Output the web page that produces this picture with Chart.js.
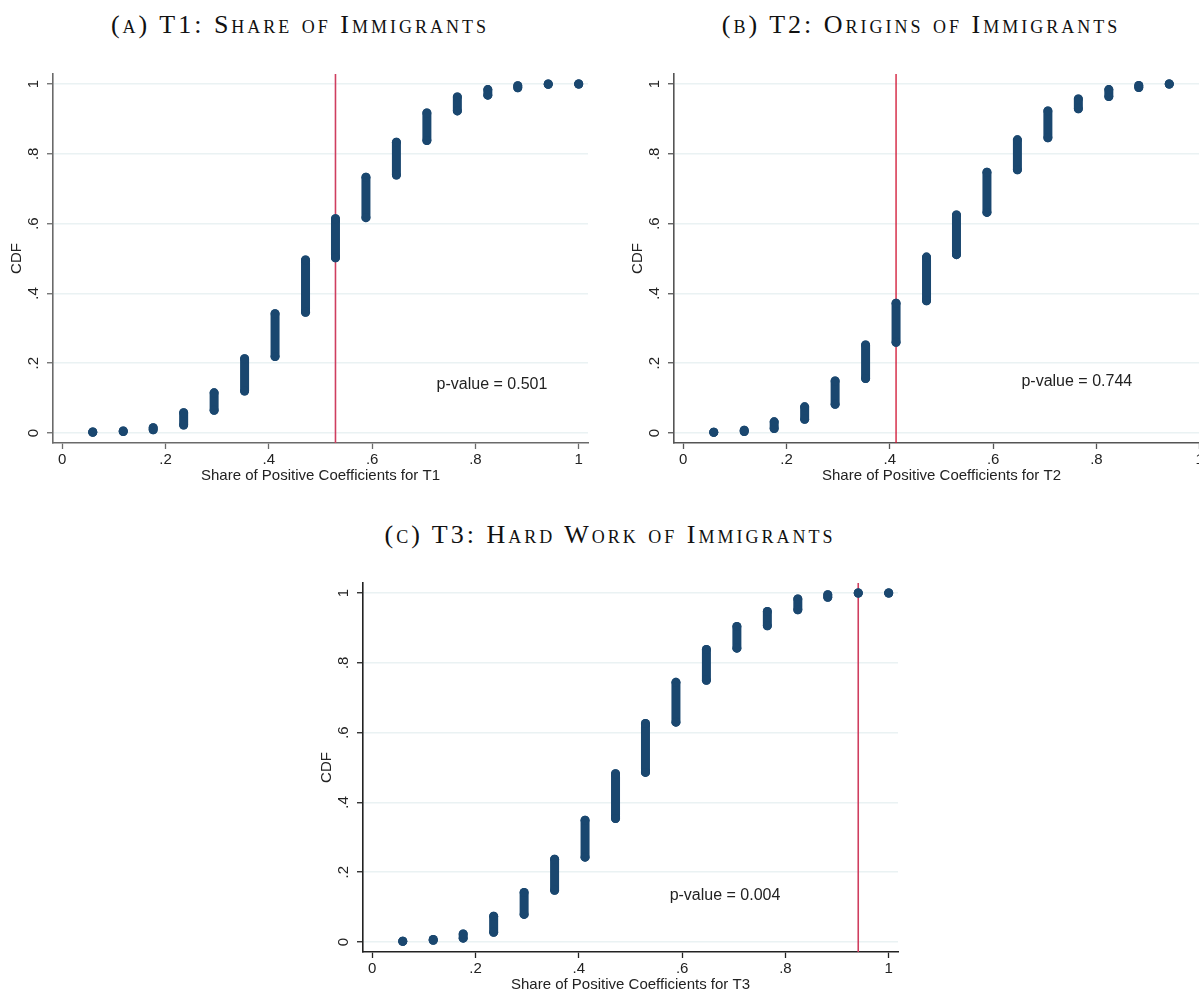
<!DOCTYPE html>
<html>
<head>
<meta charset="utf-8">
<script src="https://cdn.jsdelivr.net/npm/chart.js@4/dist/chart.umd.min.js"></script>
<style>
  html, body { margin: 0; padding: 0; background: #fff; overflow: hidden; width: 1199px; height: 992px; position: relative; }
  .panel { position: absolute; width: 600px; height: 440px; }
  .ttl { position: absolute; width: 600px; text-align: center; line-height: 30px; letter-spacing: 3px;
         font-family: 'Liberation Serif', serif; font-variant: small-caps; font-size: 26px; color: #111; }
</style>
</head>
<body>
<div class="ttl" style="left:0; top:10px">(a) T1: Share of Immigrants</div>
<div class="ttl" style="left:621px; top:10px">(b) T2: Origins of Immigrants</div>
<div class="ttl" style="left:310px; top:520px">(c) T3: Hard Work of Immigrants</div>

<div class="panel" style="left:0; top:60px"><canvas id="chartA" width="600" height="440"></canvas></div>
<div class="panel" style="left:621px; top:60px"><canvas id="chartB" width="600" height="440"></canvas></div>
<div class="panel" style="left:310px; top:569px"><canvas id="chartC" width="600" height="440"></canvas></div>

<script>
// share of positive coefficients (x = k/17)
const shares = [0.059, 0.118, 0.176, 0.235, 0.294, 0.353, 0.412, 0.471, 0.529,
                0.588, 0.647, 0.706, 0.765, 0.824, 0.882, 0.941, 1];

// CDF range at each share (low / high end of the stacked points)
const lowA  = [0.002, 0.004, 0.009, 0.023, 0.065, 0.120, 0.219, 0.346, 0.502, 0.617, 0.739, 0.838, 0.923, 0.968, 0.989, 0.999, 1.0];
const highA = [0.003, 0.006, 0.015, 0.058, 0.115, 0.213, 0.342, 0.496, 0.614, 0.733, 0.833, 0.917, 0.963, 0.984, 0.995, 1.0, 1.0];

const lowB  = [0.002, 0.004, 0.013, 0.039, 0.082, 0.156, 0.260, 0.379, 0.511, 0.632, 0.754, 0.846, 0.929, 0.964, 0.990, 1.0];
const highB = [0.002, 0.008, 0.032, 0.075, 0.149, 0.252, 0.372, 0.504, 0.625, 0.747, 0.840, 0.923, 0.957, 0.984, 0.996, 1.0];

const lowC  = [0.002, 0.005, 0.011, 0.028, 0.079, 0.148, 0.243, 0.354, 0.486, 0.630, 0.750, 0.842, 0.906, 0.952, 0.988, 1.0, 1.0];
const highC = [0.002, 0.007, 0.023, 0.074, 0.142, 0.237, 0.349, 0.482, 0.626, 0.744, 0.838, 0.904, 0.947, 0.983, 0.995, 1.0, 1.0];

// observed share (red line) and p-values
const actualA = 0.529, actualB = 0.412, actualC = 0.941;
const pValueA = 'p-value = 0.501', pValueB = 'p-value = 0.744', pValueC = 'p-value = 0.004';

const xTicks = [0, 0.2, 0.4, 0.6, 0.8, 1];
const xTickLabels = ['0', '.2', '.4', '.6', '.8', '1'];
const yTicks = [0, 0.2, 0.4, 0.6, 0.8, 1];
const yTickLabels = ['0', '.2', '.4', '.6', '.8', '1'];

const navy = '#1a476f';
const yMin = -0.0287, yMax = 1.0287;

function segments(xs, lo, hi) {
  let pts = [];
  for (let i = 0; i < lo.length; i++) {
    pts.push({x: xs[i], y: lo[i]});
    pts.push({x: xs[i], y: hi[i]});
    pts.push({x: xs[i], y: null});
  }
  return pts;
}

// rotated y tick labels (Stata style) + p-value note
const textPlugin = {
  id: 'textPlugin',
  afterDraw(chart) {
    const ctx = chart.ctx;
    const xs = chart.scales.x, ys = chart.scales.y;
    const o = chart.options.plugins.textPlugin;
    ctx.save();
    ctx.fillStyle = '#222';
    ctx.textAlign = 'center';
    ctx.textBaseline = 'middle';
    ctx.font = '15px "Liberation Sans", Arial, sans-serif';
    for (let i = 0; i < yTicks.length; i++) {
      ctx.save();
      ctx.translate(ys.right - 19, ys.getPixelForValue(yTicks[i]));
      ctx.rotate(-Math.PI / 2);
      ctx.fillText(yTickLabels[i], 0, 0);
      ctx.restore();
    }
    ctx.font = '16px "Liberation Sans", Arial, sans-serif';
    ctx.fillText(o.note, xs.getPixelForValue(o.noteX), ys.getPixelForValue(o.noteY));
    ctx.restore();
  }
};

function makePanel(id, lo, hi, actual, note, noteX, noteY, xTitle, axisColor, redColor, redWidth) {
  new Chart(document.getElementById(id), {
    type: 'scatter',
    data: {
      datasets: [
        {
          data: segments(shares, lo, hi),
          showLine: true,
          spanGaps: false,
          borderColor: navy,
          backgroundColor: navy,
          borderWidth: 9,
          borderCapStyle: 'round',
          pointRadius: 4.5,
          pointBorderWidth: 0,
          order: 1
        },
        {
          data: [{x: actual, y: yMin}, {x: actual, y: yMax}],
          showLine: true,
          borderColor: redColor,
          borderWidth: redWidth,
          pointRadius: 0,
          order: 2
        }
      ]
    },
    options: {
      responsive: false,
      animation: false,
      layout: { padding: { top: 14, right: 12, left: 0, bottom: 0 } },
      plugins: {
        legend: { display: false },
        tooltip: { enabled: false },
        textPlugin: { note: note, noteX: noteX, noteY: noteY }
      },
      scales: {
        x: {
          type: 'linear',
          min: -0.018,
          max: 1.018,
          afterBuildTicks: s => { s.ticks = xTicks.map(v => ({value: v})); },
          afterFit: s => { s.height = 57; },
          ticks: {
            callback: (v, i) => xTickLabels[i],
            font: { family: '"Liberation Sans", Arial, sans-serif', size: 15 },
            color: '#222',
            padding: 2,
            maxRotation: 0,
            autoSkip: false
          },
          grid: { drawOnChartArea: false, drawTicks: true, tickLength: 6, tickColor: axisColor, tickWidth: 1.3 },
          border: { display: true, color: axisColor, width: 1.6 },
          title: {
            display: true,
            text: xTitle,
            color: '#222',
            font: { family: '"Liberation Sans", Arial, sans-serif', size: 15 },
            padding: { top: 0, bottom: 15 }
          }
        },
        y: {
          type: 'linear',
          min: yMin,
          max: yMax,
          afterBuildTicks: s => { s.ticks = yTicks.map(v => ({value: v})); },
          afterFit: s => { s.width = 53; },
          ticks: { display: false },
          grid: { color: '#eaf2f3', lineWidth: 1.5, drawTicks: true, tickLength: 6, tickColor: axisColor, tickWidth: 1.3 },
          border: { display: true, color: axisColor, width: 1.6 },
          title: {
            display: true,
            text: 'CDF',
            color: '#222',
            font: { family: '"Liberation Sans", Arial, sans-serif', size: 15 },
            padding: { top: 8, bottom: 0 }
          }
        }
      }
    },
    plugins: [textPlugin]
  });
}

makePanel('chartA', lowA, highA, actualA, pValueA, 0.832, 0.1375,
  'Share of Positive Coefficients for T1', '#6a6a6a', '#cf3e5f', 1.6);
makePanel('chartB', lowB, highB, actualB, pValueB, 0.762, 0.147,
  'Share of Positive Coefficients for T2', '#555555', '#d0112f', 1.3);
makePanel('chartC', lowC, highC, actualC, pValueC, 0.683, 0.134,
  'Share of Positive Coefficients for T3', '#222222', '#cf3e5f', 1.6);
</script>
</body>
</html>
